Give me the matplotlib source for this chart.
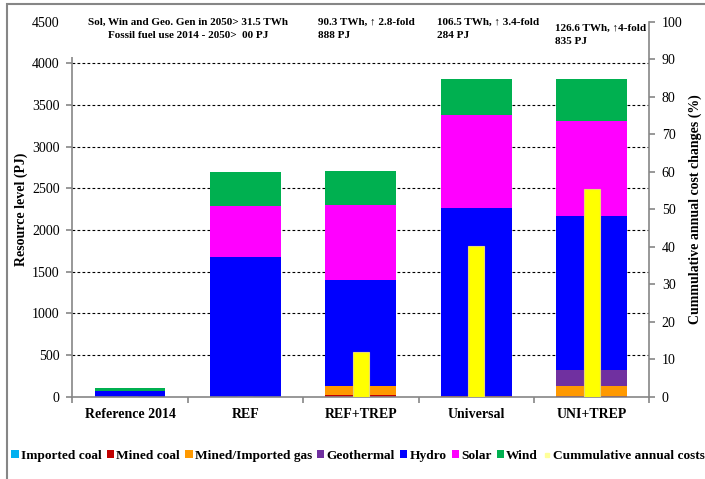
import matplotlib
matplotlib.use('Agg')
import matplotlib.pyplot as plt
from matplotlib.patches import Patch, Rectangle
from matplotlib.lines import Line2D
import numpy as np

plt.rcParams['font.family'] = ['Liberation Serif', 'DejaVu Serif']

categories = ['Reference 2014', 'REF', 'REF+TREP', 'Universal', 'UNI+TREP']
imported_coal = [0, 0, 0, 0, 0]
mined_coal = [0, 0, 20, 10, 10]
mined_imported_gas = [0, 0, 110, 0, 120]
geothermal = [0, 0, 0, 0, 185]
hydro = [70, 1671, 1272, 2257, 1849]
solar = [0, 616, 893, 1112, 1141]
wind = [28, 408, 412, 429, 511]
cost_changes = [0, 0, 12.0, 40.1, 55.4]

series = [
    ('Imported coal', imported_coal, '#00b0f0'),
    ('Mined coal', mined_coal, '#c00000'),
    ('Mined/Imported gas', mined_imported_gas, '#ff9900'),
    ('Geothermal', geothermal, '#7030a0'),
    ('Hydro', hydro, '#0000ff'),
    ('Solar', solar, '#ff00ff'),
    ('Wind', wind, '#00b050'),
]

notes = [
    (188, 22, 'center', 'Sol, Win and Geo. Gen in 2050> 31.5 TWh'),
    (188, 35, 'center', 'Fossil fuel use 2014 - 2050>  00 PJ'),
    (318, 22, 'left', '90.3 TWh, \u2191 2.8-fold'),
    (318, 36, 'left', '888 PJ'),
    (437, 22, 'left', '106.5 TWh, \u2191 3.4-fold'),
    (437, 36, 'left', '284 PJ'),
    (555, 28, 'left', '126.6 TWh, \u21914-fold'),
    (555, 42, 'left', '835 PJ'),
]

W, H = 705, 479
fig = plt.figure(figsize=(W / 100, H / 100), dpi=100)
ax = fig.add_axes([72.3 / W, 1 - 396.5 / H, 577 / W, (396.5 - 21.6) / H])
ax2 = ax.twinx()

x = np.arange(len(categories))
bottom = np.zeros(len(categories))
for name, vals, col in series:
    ax.bar(x, vals, 0.615, bottom=bottom, color=col, edgecolor='none', zorder=2)
    bottom += np.array(vals)

ax2.bar(x, cost_changes, 0.14, color='#ffff00', edgecolor='#e8d870', linewidth=0.8, zorder=3)

grey = '#868686'
ax.set_xlim(-0.5, 4.5)
ax.set_ylim(0, 4500)
ax.set_yticks(np.arange(0, 4501, 500))
ax.yaxis.grid(True, color='black', linestyle=(0, (2.5, 2)), linewidth=0.8)
ax.get_ygridlines()[-1].set_visible(False)
ax.get_ygridlines()[0].set_visible(False)
ax.set_axisbelow(True)
ax.set_xticks(np.arange(-0.5, 4.6, 1))
ax.set_xticklabels([])
ax.set_xticks(x, minor=True)
ax.set_xticklabels(categories, minor=True, fontweight='bold', fontsize=10)
ax.tick_params(axis='x', which='minor', length=0, pad=8)
ax.tick_params(axis='x', which='major', length=4, color=grey, width=1.2)
ax.tick_params(axis='y', length=4, color=grey, width=1.2, labelsize=10, pad=5)
ax.set_ylabel('Resource level (PJ)', fontweight='bold', fontsize=10, labelpad=3)

ax2.set_ylim(0, 100)
ax2.set_yticks(np.arange(0, 101, 10))
ax2.tick_params(axis='y', length=4, color=grey, width=1.2, labelsize=10, pad=5)
ax2.set_ylabel('Cummulative annual cost changes (%)', fontweight='bold', fontsize=10, labelpad=4)

for a in (ax, ax2):
    a.spines['top'].set_visible(False)
    for s in ('left', 'right', 'bottom'):
        a.spines[s].set_color(grey)
        a.spines[s].set_linewidth(1.2)
ax2.spines['left'].set_visible(False)
ax2.spines['bottom'].set_visible(False)
ax.spines['right'].set_visible(False)

# white text box covering the top-left corner of the plot
fig.patches.append(Rectangle((60 / W, 1 - 57 / H), 236 / W, 47 / H,
                             transform=fig.transFigure, facecolor='white',
                             edgecolor='none', zorder=5))
for px, py, ha, txt in notes:
    fig.text(px / W, 1 - py / H, txt, ha=ha, va='center', fontsize=8,
             fontweight='bold', zorder=6)

# outer frame
fig.patches.append(Rectangle((7 / W, -0.1), 1.2, 1 - 4 / H + 0.1,
                             transform=fig.transFigure, facecolor='none',
                             edgecolor=grey, linewidth=1.5, zorder=10))

handles = [Patch(facecolor=c, edgecolor='none', label=n) for n, _, c in series]
handles.append(Line2D([], [], marker='s', markersize=3, linestyle='none',
                      color='#ffff99', label='Cummulative annual costs'))
fig.legend(handles=handles, loc='center', bbox_to_anchor=(358 / W, 1 - 456 / H),
           ncol=8, frameon=False,
           prop={'family': ['Liberation Serif'], 'weight': 'bold', 'size': 9.6},
           handlelength=0.55, handleheight=0.55, handletextpad=0.15,
           columnspacing=0.4, borderaxespad=0)

fig.savefig('out.png', dpi=100)
